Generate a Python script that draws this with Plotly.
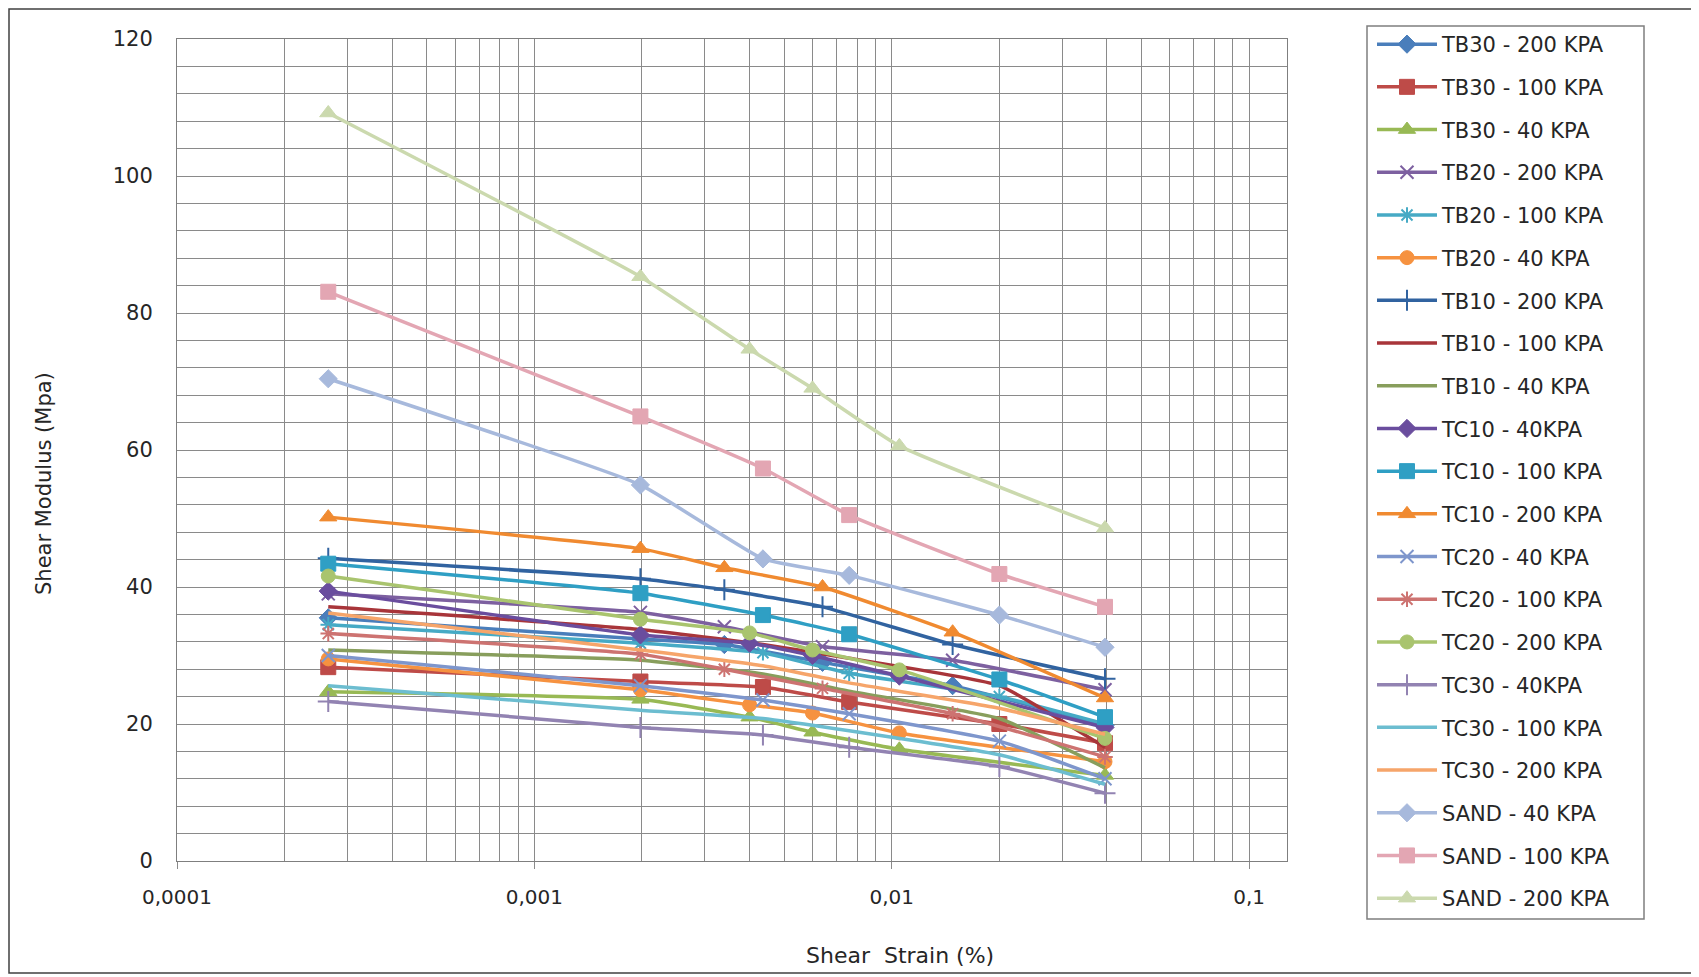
import math
import plotly.graph_objects as go

# ---- data ----
strain_a = [0.000265, 0.00198, 0.0040, 0.0060, 0.0105, 0.0395]
strain_b = [0.000265, 0.00198, 0.00436, 0.0076, 0.0200, 0.0395]
strain_c = [0.000265, 0.00198, 0.0034, 0.0064, 0.0148, 0.0395]

series_names = [
    "TB30 - 200 KPA", "TB30 - 100 KPA", "TB30 - 40 KPA",
    "TB20 - 200 KPA", "TB20 - 100 KPA", "TB20 - 40 KPA",
    "TB10 - 200 KPA", "TB10 - 100 KPA", "TB10 - 40 KPA",
    "TC10 - 40KPA", "TC10 - 100 KPA", "TC10 - 200 KPA",
    "TC20 - 40 KPA", "TC20 - 100 KPA", "TC20 - 200 KPA",
    "TC30 - 40KPA", "TC30 - 100 KPA", "TC30 - 200 KPA",
    "SAND - 40 KPA", "SAND - 100 KPA", "SAND - 200 KPA",
]
series_strain = [
    "c", "b", "a",
    "c", "b", "a",
    "c", "b", "b",
    "a", "b", "c",
    "b", "c", "a",
    "b", "b", "b",
    "b", "b", "a",
]
tb30_200 = [35.5, 32.4, 31.6, 29.0, 25.6, 19.8]
tb30_100 = [28.3, 26.2, 25.4, 23.2, 20.0, 17.2]
tb30_40 = [24.7, 23.6, 21.0, 18.8, 16.3, 12.5]
tb20_200 = [39.0, 36.3, 34.2, 31.3, 29.3, 25.0]
tb20_100 = [34.5, 31.8, 30.4, 27.4, 24.0, 20.0]
tb20_40 = [29.5, 25.0, 22.8, 21.6, 18.7, 14.5]
tb10_200 = [44.2, 41.2, 39.6, 37.1, 31.6, 26.6]
tb10_100 = [37.1, 33.8, 31.6, 29.6, 25.6, 16.6]
tb10_40 = [30.8, 29.3, 27.3, 24.8, 20.8, 13.6]
tc10_40 = [39.4, 33.0, 31.8, 30.0, 27.0, 19.5]
tc10_100 = [43.4, 39.1, 35.9, 33.1, 26.5, 21.0]
tc10_200 = [50.2, 45.6, 42.8, 40.0, 33.4, 23.8]
tc20_40 = [30.0, 25.6, 23.5, 21.5, 17.5, 12.0]
tc20_100 = [33.2, 30.2, 28.0, 25.2, 21.5, 15.2]
tc20_200 = [41.6, 35.3, 33.3, 30.8, 27.9, 17.9]
tc30_40 = [23.3, 19.5, 18.4, 16.6, 13.8, 9.9]
tc30_100 = [25.6, 22.0, 20.8, 19.0, 15.5, 11.2]
tc30_200 = [36.2, 30.8, 28.5, 26.0, 22.3, 18.5]
sand_40 = [70.4, 54.9, 44.1, 41.7, 35.9, 31.2]
sand_100 = [83.1, 64.9, 57.3, 50.5, 41.9, 37.1]
sand_200 = [109.2, 85.3, 74.7, 69.0, 60.6, 48.6]
series_values = [
    tb30_200, tb30_100, tb30_40,
    tb20_200, tb20_100, tb20_40,
    tb10_200, tb10_100, tb10_40,
    tc10_40, tc10_100, tc10_200,
    tc20_40, tc20_100, tc20_200,
    tc30_40, tc30_100, tc30_200,
    sand_40, sand_100, sand_200,
]

x_tick_values = [0.0001, 0.001, 0.01, 0.1]
x_tick_labels = ["0,0001", "0,001", "0,01", "0,1"]
y_tick_values = [0, 20, 40, 60, 80, 100, 120]
y_tick_labels = ["0", "20", "40", "60", "80", "100", "120"]

# ---- styles ----
colors = [
    "#4A7EBB", "#BE4B48", "#98B954",
    "#7D60A0", "#46AAC5", "#F69240",
    "#3163A0", "#A8353A", "#889E5C",
    "#6A4D9E", "#2F9FC4", "#F08A30",
    "#7E96CC", "#CD7371", "#A9C46E",
    "#9283B2", "#6CBDD0", "#F6A56A",
    "#A7B9DC", "#E3A6B3", "#CBD9AE",
]
symbols = [
    "diamond", "square", "triangle-up",
    "x-thin-open", "asterisk-open", "circle",
    "cross-thin-open", None, None,
    "diamond", "square", "triangle-up",
    "x-thin-open", "asterisk-open", "circle",
    "cross-thin-open", None, None,
    "diamond", "square", "triangle-up",
]
sizes = {"diamond": 14, "square": 15, "triangle-up": 15, "x-thin-open": 13,
         "asterisk-open": 13, "circle": 14, "cross-thin-open": 15}

strain_sets = {"a": strain_a, "b": strain_b, "c": strain_c}

fig = go.Figure()
for name, key, vals, col, sym in zip(series_names, series_strain, series_values, colors, symbols):
    if sym is None:
        fig.add_trace(go.Scatter(
            x=strain_sets[key], y=vals, name=name, mode="lines",
            line=dict(color=col, width=3.5, shape="spline", smoothing=0.4),
            legendgroup=name,
        ))
    else:
        open_sym = sym.endswith("open")
        fig.add_trace(go.Scatter(
            x=strain_sets[key], y=vals, name=name, mode="lines+markers",
            line=dict(color=col, width=3.5, shape="spline", smoothing=0.4),
            marker=dict(symbol=sym, size=sizes[sym], color=col,
                        line=dict(color=col, width=2 if open_sym else 1)),
            legendgroup=name,
        ))

grid = "#8A8A8A"
font_main = "DejaVu Sans"
OFF = 8  # the page body offsets the figure by 8 px
W, H = 1699 - OFF, 977 - OFF
L, R, T, B = 177 - OFF, 1287 - OFF, 39 - OFF, 861 - OFF


def px_x(p):
    return (p - OFF - L) / (R - L)


def px_y(p):
    return (B - (p - OFF)) / (B - T)


fig.update_layout(
    width=W, height=H,
    margin=dict(l=L, r=W - R, t=T, b=H - B, pad=0, autoexpand=False),
    paper_bgcolor="white", plot_bgcolor="white",
    font=dict(family=font_main, color="#262626", size=18),
    showlegend=True,
    legend=dict(
        x=px_x(1372), y=px_y(24), xanchor="left", yanchor="top",
        traceorder="grouped", tracegroupgap=12.4, maxheight=1,
        font=dict(family=font_main, size=21, color="#262626"),
        bgcolor="rgba(0,0,0,0)", borderwidth=0, itemwidth=60,
    ),
    xaxis=dict(
        type="log", range=[-4, math.log10(0.1276)],
        tickmode="array", tickvals=x_tick_values, ticktext=x_tick_labels,
        showgrid=True, gridcolor=grid, gridwidth=1,
        minor=dict(dtick="D1", showgrid=True, gridcolor=grid, gridwidth=1, ticks=""),
        ticks="outside", ticklen=7, tickcolor=grid,
        ticklabelstandoff=11,
        showline=True, linecolor="#7F7F7F", linewidth=1, mirror=True,
        tickfont=dict(size=20, family=font_main, color="#262626"),
        zeroline=False,
    ),
    yaxis=dict(
        range=[0, 120], tickmode="array", tickvals=y_tick_values, ticktext=y_tick_labels,
        showgrid=True, gridcolor=grid, gridwidth=1,
        minor=dict(dtick=4, showgrid=True, gridcolor=grid, gridwidth=1),
        ticks="", ticklabelstandoff=19,
        showline=True, linecolor="#7F7F7F", linewidth=1, mirror=True,
        tickfont=dict(size=21, family=font_main, color="#262626"),
        zeroline=False,
    ),
    shapes=[
        dict(type="rect", xref="paper", yref="paper",
             x0=px_x(1367), x1=px_x(1644), y0=px_y(919), y1=px_y(26),
             line=dict(color="#7F7F7F", width=1.5), fillcolor="rgba(0,0,0,0)", layer="below"),
        dict(type="rect", xref="paper", yref="paper",
             x0=px_x(9), x1=px_x(1697), y0=px_y(973), y1=px_y(9),
             line=dict(color="#404040", width=1.5), fillcolor="rgba(0,0,0,0)", layer="below"),
    ],
    annotations=[
        dict(text="Shear Modulus (Mpa)", xref="paper", yref="paper",
             x=px_x(44), y=px_y(484), textangle=-90, showarrow=False,
             xanchor="center", yanchor="middle",
             font=dict(size=21, family=font_main, color="#262626")),
        dict(text="Shear  Strain (%)", xref="paper", yref="paper",
             x=px_x(900), y=px_y(955), showarrow=False,
             xanchor="center", yanchor="middle",
             font=dict(size=22, family=font_main, color="#262626")),
    ],
)

fig.write_html("out.html")
